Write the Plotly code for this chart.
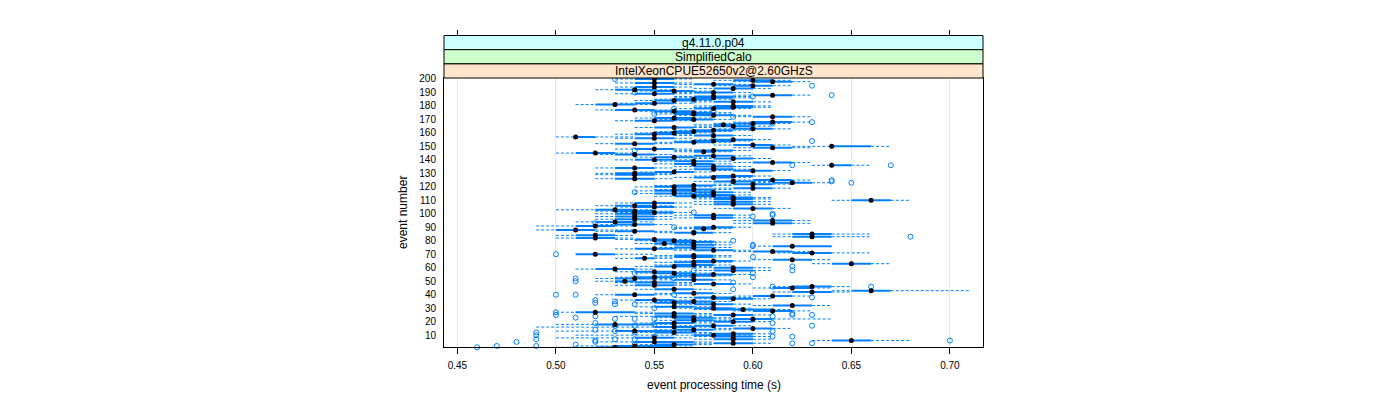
import plotly.graph_objects as go

# ---------------- data (times in hundredths of a second) ----------------
events = list(range(1, 201))

median_c = [53,54,56,59,55,65,59,55,59,58, 59,56,54,57,60,56,58,53,56,59,
            57,60,57,56,59,56,52,61,59.5,58, 56,62,58,56,57,55,59,58,61,54,
            57,63,66,56,62,63,55,58,55,53.5, 57,54,55,57,58,56,55,59,53,59,
            56,57,65,57,58,62,54.5,57,57,52, 63,61,58,55,57,62,57,55.5,57,56,
            55,52,63,52,63,57,54,51,57.5,58, 52,54,61,53,61,54,58,54,58,54,
            55,54,53,60,55,54,59,55,59,66, 59,59,57,58,56,58,56,57,60,56,
            57,60,62,59,61,54,58,59,54,54, 56,60,58,54,58,64,57,61,57,55,
            59,56,58,54,52,57.5,58,55,61,64, 60,54,57,58,59,55,51,58,55,56,
            57,58,60,56,59,58.5,60,61,55,57, 56,61,58,57,57,56,54,58,59,59,
            53,55,59,56,57,58,58,61,55,58, 56,54,59,55,60,58,55,61,60,55]

q1_c = [52,53,55,58,54,64,58,54,58,57, 58,55,53,56,59,55,57,52,55,58,
        56,59,56,55,58,55,51,60,58,57, 55,61,57,55,56,54,58,57,60,53,
        56,62,65,55,61,62,54,57,54,53, 56,53,54,56,57,55,54,58,52,58,
        55,56,64,56,57,61,54,56,56,51, 62,60,57,54,56,61,56,55,56,55,
        54,51,62,51,62,56,53,50,57,57, 51,53,60,52,60,53,57,53,57,53,
        54,53,52,59,54,53,58,54,58,65, 58,58,56,57,55,57,55,56,59,55,
        56,59,61,58,60,53,57,58,53,53, 55,59,57,53,57,64,56,60,56,54,
        58,55,57,53,51,57,57,54,60,64, 59,53,56,57,58,54,51,57,54,55,
        56,57,59,55,58,58,59,60,54,56, 55,60,57,56,56,55,53,57,58,58,
        52,54,58,55,56,57,57,60,54,57, 55,53,58,54,59,57,54,60,59,54]

q3_c = [54,56,57,60,57,66,60,56,60,59, 60,57,56,58,61,57,59,55,57,60,
        58,61,58,57,60,57,54,62,61,59, 57,63,59,57,58,56,60,59,62,55,
        58,64,67,57,63,64,56,59,56,54, 58,55,56,58,59,57,56,60,54,60,
        57,58,66,58,59,63,55,58,58,53, 64,62,59,56,58,64,58,56,58,57,
        56,53,64,53,64,58,55,52,58,59, 53,55,62,54,62,55,59,55,59,55,
        56,55,54,61,56,55,60,56,60,67, 60,60,58,59,57,59,57,58,61,57,
        58,61,63,60,62,55,59,60,55,55, 57,61,59,55,59,65,58,62,58,56,
        60,57,59,55,53,58,59,56,62,66, 61,55,58,59,60,56,52,59,56,57,
        58,59,61,57,60,59,61,62,56,58, 57,62,59,58,58,57,55,59,60,60,
        54,56,60,57,58,59,59,62,56,59, 57,55,60,56,61,59,56,62,61,56]

low_c = [50,51,54,57,52,63,57,50,57,51, 57,54,50,55,58,49,56,50,54,57,
         55,58,55,53,57,54,50,59,57,56, 54,60,56,54,55,53,57,56,59,52,
         55,61,64,54,60,61,53,56,53,52, 55,52,53,55,56,54,53,57,51,57,
         54,55,63,55,56,60,53,55,55,51, 61,59,56,53,55,60,55,54,55,54,
         53,50,61,50,61,55,52,49,56,56, 49,52,59,51,59,52,56,52,56,52,
         53,52,50,58,53,52,57,53,57,64, 57,57,55,56,54,56,54,55,58,54,
         55,58,60,57,59,52,56,57,52,52, 54,58,56,52,56,63,55,59,55,53,
         57,54,56,52,50,56,56,53,59,62, 58,52,55,56,57,53,50,56,53,54,
         55,56,58,54,57,57,58,59,53,55, 54,59,56,55,55,54,52,56,57,57,
         51,53,57,54,55,56,56,59,53,56, 54,52,57,53,58,56,53,59,58,53]

high_c = [55,57,58,61,58,68,61,57,61,60, 61,58,57,59,62,58,60,56,58,61,
          59,64,59,58,61,58,55,63,62,60, 58,64,60,58,59,57,61,60,63,56,
          59,65,71,58,64,65,57,60,57,55, 59,56,57,59,60,58,57,61,55,61,
          58,59,67,59,60,64,56,59,59,55, 66,63,60,57,59,64,59,57,59,58,
          57,54,66,54,66,59,56,54,59,60, 54,56,63,55,63,56,60,56,60,56,
          57,56,55,62,57,56,61,57,61,68, 61,61,59,60,58,60,58,59,62,58,
          59,62,64,61,63,56,60,61,56,56, 58,62,60,56,60,66,59,63,59,57,
          61,58,60,56,54,59,60,57,63,67, 62,56,59,60,61,57,54,60,57,58,
          59,60,62,58,61,60,62,63,57,59, 58,63,60,59,59,58,56,60,61,61,
          55,57,61,58,59,60,60,63,57,60, 58,56,61,57,62,60,57,63,62,57]

outlier_event = [200,195,190,188,187,184,178,176,174,172,168,167,155,154,
                 147,136,136,125,124,124,123,116,101,100,99,98,93,90,86,83,80,78,77,
                 76,70,68,61,58,58,56,56,53,53,52,52,
                 50,49,46,46,44,40,40,40,38,36,35,34,33,33,30,27,26,25,
                 25,25,24,24,23,22,22,22,19,19,18,17,17,17,14,13,13,12,12,10,
                 9,9,9,7,7,7,6,6,5,5,4,4,3,3,2,2,1]
outlier_c = [53,63,54,64,60,57,56,58,55,59,63,61,58,63,
             54,62,67,64,59,64,65,54,57,61,61,60,52,56,57,68,59,58,60,
             60,50,60,62,62,57,54,60,60,55,51,56,
             51,59,61,66,59,50,51,56,63,52,53,52,53,54,55,50,62,63,
             50,62,52,61,51,53,54,55,52,61,55,53,54,63,52,53,61,49,54,49,
             55,61,62,49,53,54,52,70,48,52,62,63,51,54,47,49,46]

x_ticks = [0.45, 0.50, 0.55, 0.60, 0.65, 0.70]
y_ticks = list(range(10, 201, 10))
strip_labels = ["g4.11.0.p04", "SimplifiedCalo", "IntelXeonCPUE52650v2@2.60GHzS"]

# ---------------- convert ----------------
sec = lambda v: v / 100.0
med = [sec(v) for v in median_c]
q1 = [sec(v) for v in q1_c]
q3 = [sec(v) for v in q3_c]
lo = [sec(v) for v in low_c]
hi = [sec(v) for v in high_c]
out_t = [sec(v) for v in outlier_c]

BLUE = "#0080ff"

wx, wy, bx, by = [], [], [], []
for e, a, b, m, c, d in zip(events, lo, q1, med, q3, hi):
    wx += [a, b, None, c, d, None]
    wy += [e, e, None, e, e, None]
    bx += [b, c, None]
    by += [e, e, None]

fig = go.Figure()
fig.add_trace(go.Scatter(x=wx, y=wy, mode="lines", connectgaps=False,
                         line=dict(color=BLUE, width=1, dash="3px,2px"),
                         hoverinfo="skip", showlegend=False))
fig.add_trace(go.Scatter(x=bx, y=by, mode="lines", connectgaps=False,
                         line=dict(color=BLUE, width=2),
                         hoverinfo="skip", showlegend=False))
fig.add_trace(go.Scatter(x=out_t, y=outlier_event, mode="markers", cliponaxis=False,
                         marker=dict(symbol="circle-open", size=5, color=BLUE,
                                     line=dict(color=BLUE, width=1)),
                         showlegend=False))
fig.add_trace(go.Scatter(x=med, y=events, mode="markers",
                         marker=dict(symbol="circle", size=5, color="black"),
                         showlegend=False))
# invisible trace to carry the top tick axis
fig.add_trace(go.Scatter(x=x_ticks, y=[None] * len(x_ticks), xaxis="x2", yaxis="y",
                         mode="markers", marker=dict(opacity=0), showlegend=False,
                         hoverinfo="skip"))

W, H = 1400, 400
px_l, px_r, px_t, px_b = 444, 983, 78, 347.3
xdom = [px_l / W, px_r / W]
ydom = [1 - px_b / H, 1 - px_t / H]
xr = [0.4432, 0.7168]

font = "Liberation Sans, Arial, Helvetica, sans-serif"

fig.update_layout(
    width=W, height=H, margin=dict(l=0, r=0, t=0, b=0, autoexpand=False),
    paper_bgcolor="white", plot_bgcolor="white",
    font=dict(family=font, size=10, color="black"),
    xaxis=dict(domain=xdom, range=xr, tickvals=x_ticks, tickformat=".2f",
               ticks="outside", ticklen=6, tickcolor="black", tickwidth=1,
               showline=True, linecolor="black", linewidth=1, mirror=True,
               showgrid=True, gridcolor="#e9e9e9", gridwidth=1, zeroline=False,
               tickfont=dict(size=10), ticklabelstandoff=3),
    xaxis2=dict(domain=xdom, range=xr, tickvals=x_ticks, overlaying="x",
                anchor="free", position=1 - 35.5 / H, side="top",
                ticks="outside", ticklen=6, tickcolor="black", tickwidth=1,
                showticklabels=False, showline=False, showgrid=False, zeroline=False),
    yaxis=dict(domain=ydom, range=[1.0, 200.7], tickvals=y_ticks,
               ticks="", showline=True, linecolor="black", linewidth=1, mirror=True,
               showgrid=False, zeroline=False, tickfont=dict(size=10),
               ticklabelstandoff=5),
)

# strips (bottom = first level)
strip_cols = ["#ccffff", "#ccffcc", "#ffe5cc"]
edges = [35.5, 49.7, 63.9, 78]
for i, (lab, col) in enumerate(zip(strip_labels, strip_cols)):
    y0 = 1 - edges[i + 1] / H
    y1 = 1 - edges[i] / H
    fig.add_shape(type="rect", xref="paper", yref="paper", x0=xdom[0], x1=xdom[1],
                  y0=y0, y1=y1, fillcolor=col, line=dict(color="black", width=1),
                  layer="above")
    fig.add_annotation(text=lab, xref="paper", yref="paper",
                       x=(xdom[0] + xdom[1]) / 2, y=(y0 + y1) / 2,
                       showarrow=False, font=dict(size=12, family=font),
                       xanchor="center", yanchor="middle")

fig.add_annotation(text="event processing time (s)", xref="paper", yref="paper",
                   x=(xdom[0] + xdom[1]) / 2, y=1 - 385 / H, showarrow=False,
                   font=dict(size=12, family=font), xanchor="center", yanchor="middle")
fig.add_annotation(text="event number", xref="paper", yref="paper",
                   x=403 / W, y=1 - 213 / H, showarrow=False, textangle=-90,
                   font=dict(size=12, family=font), xanchor="center", yanchor="middle")

fig.write_html("out.html", config={"displayModeBar": False})

# remove the browser's default page margin so the figure sits at (0, 0)
with open("out.html", "r", encoding="utf-8") as fh:
    html = fh.read()
html = html.replace("<head>", "<head><style>html,body{margin:0;padding:0;}</style>", 1)
with open("out.html", "w", encoding="utf-8") as fh:
    fh.write(html)
